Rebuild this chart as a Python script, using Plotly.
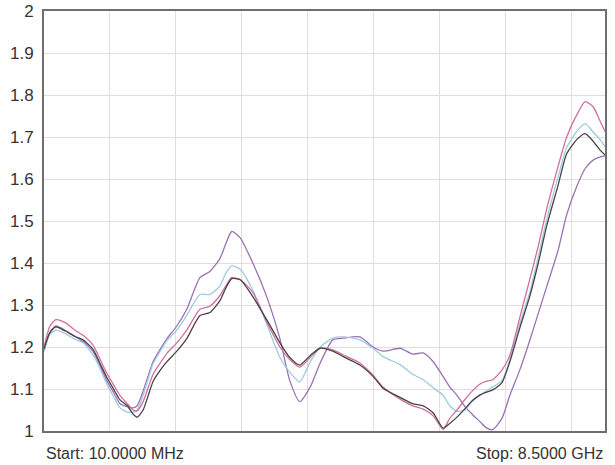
import plotly.graph_objects as go

# Frequency points (GHz)
freq_ghz = [0.01, 0.10, 0.19, 0.33, 0.48, 0.60, 0.75, 0.86, 0.96, 1.07, 1.16, 1.27, 1.36, 1.42, 1.51,
            1.66, 1.77, 1.87, 2.02, 2.17, 2.37, 2.52, 2.67, 2.76, 2.85, 2.98, 3.17, 3.38, 3.58, 3.73,
            3.88, 4.04, 4.19, 4.38, 4.54, 4.79, 4.99, 5.14, 5.40, 5.59, 5.75, 5.90, 6.05, 6.15, 6.26,
            6.38, 6.49, 6.61, 6.70, 6.80, 6.94, 7.06, 7.21, 7.36, 7.49, 7.62, 7.79, 7.92, 8.08, 8.20,
            8.32, 8.42, 8.50]

vswr_black = [1.195, 1.235, 1.248, 1.238, 1.225, 1.217, 1.195, 1.16, 1.128, 1.098, 1.074, 1.06, 1.04, 1.033, 1.05,
              1.118, 1.145, 1.165, 1.19, 1.22, 1.275, 1.282, 1.31, 1.34, 1.363, 1.36, 1.32, 1.265, 1.21, 1.175,
              1.157, 1.18, 1.197, 1.19, 1.177, 1.157, 1.13, 1.102, 1.08, 1.065, 1.06, 1.043, 1.007, 1.018, 1.033,
              1.053, 1.072, 1.086, 1.092, 1.098, 1.115, 1.165, 1.245, 1.32, 1.40, 1.49, 1.585, 1.66, 1.695, 1.708,
              1.69, 1.67, 1.657]

vswr_pink = [1.2, 1.25, 1.265, 1.258, 1.24, 1.228, 1.205, 1.17, 1.138, 1.108, 1.085, 1.065, 1.05, 1.048, 1.07,
             1.135, 1.162, 1.185, 1.21, 1.24, 1.29, 1.297, 1.322, 1.345, 1.365, 1.36, 1.33, 1.26, 1.2, 1.17,
             1.152, 1.175, 1.198, 1.193, 1.181, 1.162, 1.133, 1.105, 1.076, 1.06, 1.052, 1.036, 1.004, 1.03, 1.05,
             1.075, 1.095, 1.112, 1.118, 1.122, 1.145, 1.18, 1.27, 1.36, 1.44, 1.53, 1.63, 1.70, 1.755, 1.784,
             1.772, 1.74, 1.713]

vswr_blue = [1.19, 1.23, 1.24, 1.232, 1.218, 1.21, 1.182, 1.148, 1.112, 1.08, 1.055, 1.045, 1.045, 1.05, 1.085,
             1.16, 1.19, 1.215, 1.24, 1.275, 1.325, 1.325, 1.345, 1.375, 1.393, 1.385, 1.335, 1.255, 1.175, 1.14,
             1.117, 1.165, 1.2, 1.221, 1.224, 1.217, 1.197, 1.177, 1.158, 1.135, 1.122, 1.103, 1.085, 1.06, 1.047,
             1.05, 1.07, 1.085, 1.095, 1.105, 1.12, 1.17, 1.255, 1.33, 1.415, 1.505, 1.605, 1.675, 1.715, 1.732,
             1.712, 1.695, 1.677]

vswr_purple = [1.19, 1.235, 1.25, 1.24, 1.225, 1.213, 1.19, 1.155, 1.12, 1.09, 1.065, 1.058, 1.055, 1.06, 1.095,
               1.165, 1.195, 1.22, 1.25, 1.29, 1.365, 1.38, 1.41, 1.445, 1.475, 1.46, 1.40, 1.32, 1.22, 1.12,
               1.07, 1.105, 1.162, 1.217, 1.221, 1.224, 1.2, 1.19, 1.197, 1.183, 1.186, 1.165, 1.13, 1.105, 1.085,
               1.058, 1.04, 1.022, 1.008, 1.003, 1.03, 1.085, 1.145, 1.215, 1.28, 1.345, 1.43, 1.515, 1.585, 1.625,
               1.645, 1.652, 1.655]

y_ticks = [1, 1.1, 1.2, 1.3, 1.4, 1.5, 1.6, 1.7, 1.8, 1.9, 2]
y_tick_text = ["1", "1.1", "1.2", "1.3", "1.4", "1.5", "1.6", "1.7", "1.8", "1.9", "2"]
x_grid = [1, 2, 3, 4, 5, 6, 7, 8]
start_label = "Start: 10.0000 MHz"
stop_label = "Stop: 8.5000 GHz"

series = [
    ("purple", vswr_purple, "#9a72b4"),
    ("blue", vswr_blue, "#9ccbe2"),
    ("pink", vswr_pink, "#cf6f9e"),
    ("black", vswr_black, "#4a4242"),
]

fig = go.Figure()
for name, ys, col in series:
    fig.add_trace(go.Scatter(x=freq_ghz, y=ys, mode="lines", name=name,
                             line=dict(color=col, width=1.3, shape="spline", smoothing=0.6),
                             showlegend=False))

fig.update_layout(
    width=615, height=465,
    margin=dict(l=44, r=10, t=11, b=34, autoexpand=False),
    paper_bgcolor="white", plot_bgcolor="white",
    font=dict(family="Liberation Sans, Arial, sans-serif", size=16, color="#333333"),
)
fig.update_xaxes(range=[0.01, 8.5], tickvals=x_grid, showticklabels=False, automargin=False,
                 showgrid=True, gridcolor="#e6dbdb", gridwidth=1, zeroline=False,
                 showline=True, mirror=True, linecolor="#6e6e6e", linewidth=2)
fig.update_yaxes(range=[1, 2], tickvals=y_ticks, ticktext=y_tick_text, automargin=False,
                 showgrid=True, gridcolor="#e6dbdb", gridwidth=1, zeroline=False,
                 showline=True, mirror=True, linecolor="#6e6e6e", linewidth=2,
                 ticks="outside", ticklen=5, tickcolor="rgba(0,0,0,0)",
                 tickfont=dict(size=17, color="#333333"))

fig.add_annotation(text=start_label, xref="paper", yref="paper", x=0, y=-0.053,
                   xanchor="left", yanchor="middle", showarrow=False,
                   font=dict(size=16, color="#333333"))
fig.add_annotation(text=stop_label, xref="paper", yref="paper", x=1, y=-0.053,
                   xanchor="right", yanchor="middle", showarrow=False,
                   font=dict(size=16, color="#333333"))

fig.write_html("out.html", config={"displayModeBar": False},
               post_script="document.body.style.margin='0';document.body.style.overflow='hidden';")
